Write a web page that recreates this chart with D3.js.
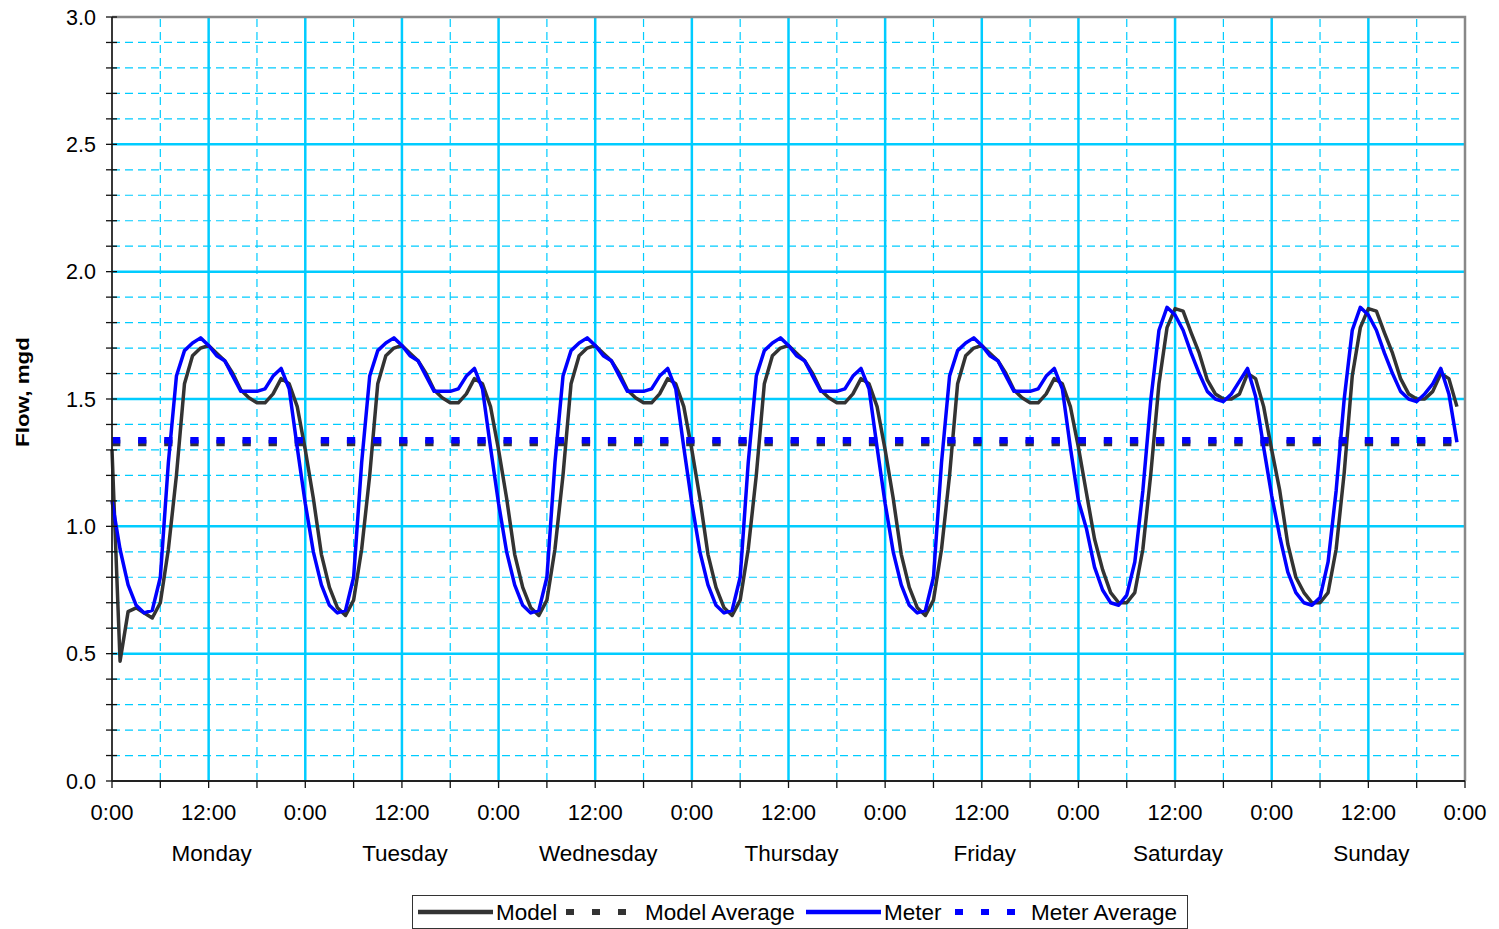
<!DOCTYPE html>
<html>
<head>
<meta charset="utf-8">
<script src="https://cdn.jsdelivr.net/npm/d3@7"></script>
<style>
  body { margin: 0; background: #fff; }
  text { font-family: Arial, "Liberation Sans", sans-serif; fill: #000; }
</style>
</head>
<body>
<svg id="chart" width="1499" height="929"></svg>
<script>
// days of the week shown under the axis
const dayNames = ["Monday", "Tuesday", "Wednesday", "Thursday", "Friday", "Saturday", "Sunday"];

// hourly meter flow (mgd), one row per day, hours 0..23
const meterFlow = [
  [1.10, 0.91, 0.77, 0.69, 0.66, 0.67, 0.80, 1.25, 1.59, 1.69, 1.72, 1.74, 1.71, 1.67, 1.65, 1.59, 1.53, 1.53, 1.53, 1.54, 1.59, 1.62, 1.54, 1.31],
  [1.09, 0.90, 0.77, 0.69, 0.66, 0.67, 0.80, 1.25, 1.59, 1.69, 1.72, 1.74, 1.71, 1.67, 1.65, 1.59, 1.53, 1.53, 1.53, 1.54, 1.59, 1.62, 1.54, 1.31],
  [1.09, 0.90, 0.77, 0.69, 0.66, 0.67, 0.80, 1.25, 1.59, 1.69, 1.72, 1.74, 1.71, 1.67, 1.65, 1.59, 1.53, 1.53, 1.53, 1.54, 1.59, 1.62, 1.54, 1.31],
  [1.09, 0.90, 0.77, 0.69, 0.66, 0.67, 0.80, 1.25, 1.59, 1.69, 1.72, 1.74, 1.71, 1.67, 1.65, 1.59, 1.53, 1.53, 1.53, 1.54, 1.59, 1.62, 1.54, 1.31],
  [1.09, 0.90, 0.77, 0.69, 0.66, 0.67, 0.80, 1.25, 1.59, 1.69, 1.72, 1.74, 1.71, 1.67, 1.65, 1.59, 1.53, 1.53, 1.53, 1.54, 1.59, 1.62, 1.54, 1.31],
  [1.10, 0.99, 0.84, 0.75, 0.70, 0.69, 0.73, 0.86, 1.14, 1.50, 1.77, 1.86, 1.83, 1.77, 1.68, 1.60, 1.53, 1.50, 1.49, 1.52, 1.57, 1.62, 1.51, 1.31],
  [1.12, 0.96, 0.82, 0.74, 0.70, 0.69, 0.72, 0.86, 1.14, 1.50, 1.77, 1.86, 1.83, 1.77, 1.68, 1.60, 1.53, 1.50, 1.49, 1.52, 1.56, 1.62, 1.52, 1.33]
];

// hourly model flow (mgd), one row per day, hours 0..23
const modelFlow = [
  [1.30, 0.47, 0.665, 0.68, 0.66, 0.64, 0.70, 0.91, 1.20, 1.56, 1.67, 1.70, 1.71, 1.68, 1.65, 1.60, 1.535, 1.505, 1.485, 1.485, 1.52, 1.58, 1.56, 1.47],
  [1.30, 1.11, 0.89, 0.76, 0.68, 0.65, 0.71, 0.91, 1.20, 1.56, 1.67, 1.70, 1.71, 1.68, 1.65, 1.60, 1.535, 1.505, 1.485, 1.485, 1.52, 1.58, 1.56, 1.47],
  [1.30, 1.11, 0.89, 0.76, 0.68, 0.65, 0.71, 0.91, 1.20, 1.56, 1.67, 1.70, 1.71, 1.68, 1.65, 1.60, 1.535, 1.505, 1.485, 1.485, 1.52, 1.58, 1.56, 1.47],
  [1.30, 1.11, 0.89, 0.76, 0.68, 0.65, 0.71, 0.91, 1.20, 1.56, 1.67, 1.70, 1.71, 1.68, 1.65, 1.60, 1.535, 1.505, 1.485, 1.485, 1.52, 1.58, 1.56, 1.47],
  [1.30, 1.11, 0.89, 0.76, 0.68, 0.65, 0.71, 0.91, 1.20, 1.56, 1.67, 1.70, 1.71, 1.68, 1.65, 1.60, 1.535, 1.505, 1.485, 1.485, 1.52, 1.58, 1.56, 1.47],
  [1.31, 1.13, 0.95, 0.83, 0.74, 0.70, 0.70, 0.74, 0.91, 1.21, 1.56, 1.78, 1.855, 1.845, 1.76, 1.68, 1.575, 1.52, 1.50, 1.50, 1.52, 1.60, 1.58, 1.47],
  [1.30, 1.14, 0.93, 0.80, 0.74, 0.70, 0.70, 0.74, 0.91, 1.21, 1.59, 1.78, 1.855, 1.845, 1.76, 1.68, 1.58, 1.52, 1.50, 1.50, 1.53, 1.60, 1.58, 1.47]
];

// weekly averages (mgd)
const modelAverage = 1.327;
const meterAverage = 1.338;

// axis labels
const yTickLabels = ["0.0", "0.5", "1.0", "1.5", "2.0", "2.5", "3.0"];
const hourLabels = ["0:00", "12:00"];
const legendNames = ["Model", "Model Average", "Meter", "Meter Average"];

const svg = d3.select("#chart");
const margin = {left: 112, right: 34, top: 17, bottom: 148};
const W = 1499, H = 929;

const hours = dayNames.length * 24;
const x = d3.scaleLinear([0, hours], [margin.left, W - margin.right]);
const y = d3.scaleLinear([0, 3], [H - margin.bottom, margin.top]);

const cyan = "#00ccff";
const grey = "#333333";
const blue = "#0000ff";

// grid
let grid = svg.append("g").attr("id", "grid");
let minorY = d3.range(1, 30).filter(i => i % 5 !== 0).map(i => i / 10);
let majorY = d3.range(5, 30, 5).map(i => i / 10);
let minorX = d3.range(6, hours, 12);
let majorX = d3.range(12, hours, 12);

grid.selectAll("line.minor-y")
    .data(minorY)
    .join("line")
    .attr("class", "minor-y")
    .attr("x1", x(0)).attr("x2", x(hours))
    .attr("y1", d => y(d)).attr("y2", d => y(d))
    .attr("stroke", cyan).attr("stroke-width", 1.2)
    .attr("stroke-dasharray", "8,5");
grid.selectAll("line.minor-x")
    .data(minorX)
    .join("line")
    .attr("class", "minor-x")
    .attr("x1", d => x(d)).attr("x2", d => x(d))
    .attr("y1", y(0)).attr("y2", y(3))
    .attr("stroke", cyan).attr("stroke-width", 1.2)
    .attr("stroke-dasharray", "8,5");
grid.selectAll("line.major-y")
    .data(majorY)
    .join("line")
    .attr("class", "major-y")
    .attr("x1", x(0)).attr("x2", x(hours))
    .attr("y1", d => y(d)).attr("y2", d => y(d))
    .attr("stroke", cyan).attr("stroke-width", 2.5);
grid.selectAll("line.major-x")
    .data(majorX)
    .join("line")
    .attr("class", "major-x")
    .attr("x1", d => x(d)).attr("x2", d => x(d))
    .attr("y1", y(0)).attr("y2", y(3))
    .attr("stroke", cyan).attr("stroke-width", 2.5);

// plot border (top and right)
svg.append("path")
    .attr("d", `M${x(0)},${y(3)}H${x(hours)}V${y(0)}`)
    .attr("fill", "none")
    .attr("stroke", "#888")
    .attr("stroke-width", 2.5);

// series
const line = d3.line()
    .x((d, i) => x(i))
    .y(d => y(d));

let modelSeries = modelFlow.flat();
let meterSeries = meterFlow.flat();
let lastHour = modelSeries.length - 1;

svg.append("path")
    .datum(modelSeries)
    .attr("d", line)
    .attr("fill", "none")
    .attr("stroke", grey)
    .attr("stroke-width", 3.5)
    .attr("stroke-linejoin", "round");

svg.append("line")
    .attr("x1", x(0)).attr("x2", x(lastHour))
    .attr("y1", y(modelAverage)).attr("y2", y(modelAverage))
    .attr("stroke", grey).attr("stroke-width", 6.5)
    .attr("stroke-dasharray", "8.3,17.8");

svg.append("path")
    .datum(meterSeries)
    .attr("d", line)
    .attr("fill", "none")
    .attr("stroke", blue)
    .attr("stroke-width", 3.5)
    .attr("stroke-linejoin", "round");

svg.append("line")
    .attr("x1", x(0)).attr("x2", x(lastHour))
    .attr("y1", y(meterAverage)).attr("y2", y(meterAverage))
    .attr("stroke", blue).attr("stroke-width", 6.5)
    .attr("stroke-dasharray", "8.3,17.8");

// y axis
let yAxis = svg.append("g").attr("id", "y-axis");
yAxis.append("line")
    .attr("x1", x(0)).attr("x2", x(0))
    .attr("y1", y(0)).attr("y2", y(3))
    .attr("stroke", "#222").attr("stroke-width", 1.8);
yAxis.selectAll("line.tick")
    .data(d3.range(0, 31).map(i => i / 10))
    .join("line")
    .attr("class", "tick")
    .attr("x1", x(0) - 6).attr("x2", x(0) + 5)
    .attr("y1", d => y(d)).attr("y2", d => y(d))
    .attr("stroke", "#111").attr("stroke-width", 1.3);
yAxis.selectAll("text")
    .data(yTickLabels)
    .join("text")
    .attr("x", x(0) - 16)
    .attr("y", d => y(+d))
    .attr("dy", "0.36em")
    .attr("text-anchor", "end")
    .attr("font-size", 21.5)
    .text(d => d);

svg.append("text")
    .attr("transform", `translate(29,${(y(0) + y(3)) / 2 - 7}) rotate(-90)`)
    .attr("text-anchor", "middle")
    .attr("font-size", 18)
    .attr("font-weight", "bold")
    .attr("textLength", 110)
    .attr("lengthAdjust", "spacingAndGlyphs")
    .text("Flow, mgd");

// x axis
let xAxis = svg.append("g").attr("id", "x-axis");
xAxis.append("line")
    .attr("x1", x(0)).attr("x2", x(hours))
    .attr("y1", y(0)).attr("y2", y(0))
    .attr("stroke", "#222").attr("stroke-width", 1.8);
xAxis.selectAll("line.tick")
    .data(d3.range(0, hours + 1, 6))
    .join("line")
    .attr("class", "tick")
    .attr("x1", d => x(d)).attr("x2", d => x(d))
    .attr("y1", y(0)).attr("y2", y(0) + 7)
    .attr("stroke", "#111").attr("stroke-width", 1.3);
xAxis.selectAll("text.hour")
    .data(d3.range(0, hours + 1, 12))
    .join("text")
    .attr("class", "hour")
    .attr("x", d => x(d))
    .attr("y", y(0) + 39)
    .attr("text-anchor", "middle")
    .attr("font-size", 22)
    .text(d => hourLabels[(d / 12) % 2]);
xAxis.selectAll("text.day")
    .data(dayNames)
    .join("text")
    .attr("class", "day")
    .attr("x", (d, i) => x(i * 24 + 12) + 3)
    .attr("y", y(0) + 80)
    .attr("text-anchor", "middle")
    .attr("font-size", 22.5)
    .text(d => d);

// legend
let legend = svg.append("g").attr("id", "legend");
legend.append("rect")
    .attr("x", 412.5).attr("y", 895.5)
    .attr("width", 775).attr("height", 33)
    .attr("fill", "#fff")
    .attr("stroke", "#333").attr("stroke-width", 1);

const legendItems = [
  {name: legendNames[0], color: grey, dash: null, x0: 418, tx: 78},
  {name: legendNames[1], color: grey, dash: "8,18", x0: 566, tx: 79},
  {name: legendNames[2], color: blue, dash: null, x0: 806, tx: 78},
  {name: legendNames[3], color: blue, dash: "8,18", x0: 955, tx: 76}
];
let item = legend.selectAll("g.item")
    .data(legendItems)
    .join("g")
    .attr("class", "item")
    .attr("transform", d => `translate(${d.x0},912)`);
item.append("line")
    .attr("x1", 0).attr("x2", d => d.dash ? 66 : 75)
    .attr("y1", 0).attr("y2", 0)
    .attr("stroke", d => d.color)
    .attr("stroke-width", d => d.dash ? 6 : 4.5)
    .attr("stroke-dasharray", d => d.dash);
item.append("text")
    .attr("x", d => d.tx)
    .attr("y", 8)
    .attr("font-size", 22.5)
    .text(d => d.name);
</script>
</body>
</html>
